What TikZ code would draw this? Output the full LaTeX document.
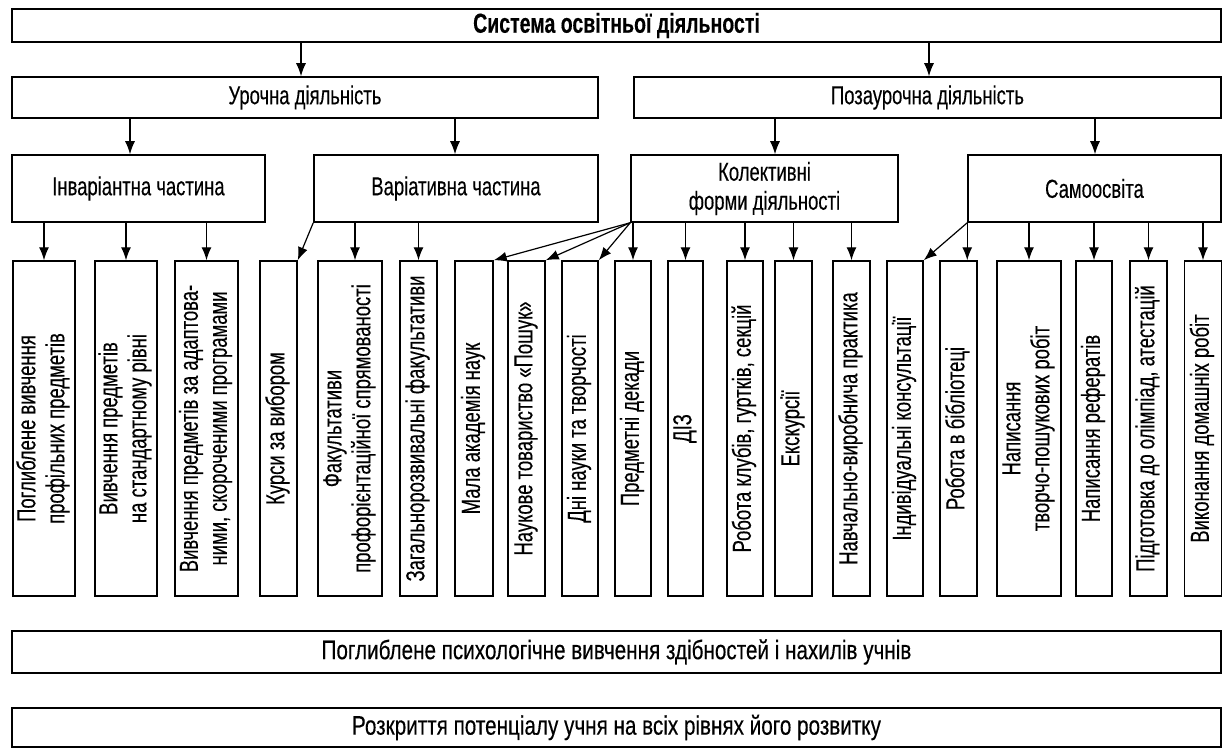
\documentclass[tikz,border=0pt]{standalone}
\usepackage{fontspec}
\setmainfont{Liberation Sans}[FakeStretch=0.71,FakeBold=0.3]
\usetikzlibrary{arrows.meta}
\newcommand{\vtext}[1]{\rotatebox{90}{\begin{tabular}{@{}c@{}}#1\end{tabular}}}
\newcommand{\widetext}[1]{\scalebox{1.12}[1.03]{#1}}
\begin{document}
\begin{tikzpicture}[x=1pt,y=-1pt,
  box/.style={draw, line width=1.5pt, inner sep=0pt, align=center},
  vbox/.style={box, minimum height=335pt},
  arr/.style={line width=1.2pt, -{Latex[length=13pt,width=10pt]}},
  font=\fontsize{26}{29}\selectfont]
\useasboundingbox (0,0) rectangle (1227,749);
% level 0
\node[box, minimum width=1209pt, minimum height=33pt] (T) at (616.5,25.5) {\fontsize{27.5}{29}\selectfont\textbf{Система освітньої діяльності}};
% level 1
\node[box, minimum width=586pt, minimum height=41pt] (U) at (305,97.5) {Урочна діяльність};
\node[box, minimum width=587pt, minimum height=41pt] (P) at (927.5,97.5) {Позаурочна діяльність};
% level 2
\node[box, minimum width=253pt, minimum height=67pt] (Inv) at (138.5,188.5) {Інваріантна частина};
\node[box, minimum width=284pt, minimum height=67pt] (Var) at (456,188.5) {Варіативна частина};
\node[box, minimum width=267pt, minimum height=67pt] (Kol) at (764.5,188.5) {Колективні\\форми діяльності};
\node[box, minimum width=253pt, minimum height=67pt] (Sam) at (1094.5,188.5) {Самоосвіта};
% vertical boxes
\node[vbox, minimum width=62pt] (b1) at (44,428.5) {\vtext{Поглиблене вивчення\\профільних предметів}};
\node[vbox, minimum width=62pt] (b2) at (126,428.5) {\vtext{Вивчення предметів\\на стандартному рівні}};
\node[vbox, minimum width=63pt] (b3) at (206.5,428.5) {\vtext{Вивчення предметів за адаптова-\\ними, скороченими програмами}};
\node[vbox, minimum width=37pt] (b4) at (278.5,428.5) {\vtext{Курси за вибором}};
\node[vbox, minimum width=64pt] (b5) at (350,428.5) {\vtext{Факультативи\\профорієнтаційної спрямованості}};
\node[vbox, minimum width=37pt] (b6) at (418.5,428.5) {\vtext{Загальнорозвивальні факультативи}};
\node[vbox, minimum width=38pt] (b7) at (474,428.5) {\vtext{Мала академія наук}};
\node[vbox, minimum width=37pt] (b8) at (526.5,428.5) {\vtext{Наукове товариство «Пошук»}};
\node[vbox, minimum width=36pt] (b9) at (580,428.5) {\vtext{Дні науки та творчості}};
\node[vbox, minimum width=36pt] (b10) at (633,428.5) {\vtext{Предметні декади}};
\node[vbox, minimum width=35pt] (b11) at (685.5,428.5) {\vtext{ДІЗ}};
\node[vbox, minimum width=36pt] (b12) at (745,428.5) {\vtext{Робота клубів, гуртків, секцій}};
\node[vbox, minimum width=37pt] (b13) at (793.5,428.5) {\vtext{Екскурсії}};
\node[vbox, minimum width=37pt] (b14) at (851.5,428.5) {\vtext{Навчально-виробнича практика}};
\node[vbox, minimum width=36pt] (b15) at (905,428.5) {\vtext{Індивідуальні консультації}};
\node[vbox, minimum width=37pt] (b16) at (958.5,428.5) {\vtext{Робота в бібліотеці}};
\node[vbox, minimum width=64pt] (b17) at (1029,428.5) {\vtext{Написання\\творчо-пошукових робіт}};
\node[vbox, minimum width=36pt] (b18) at (1094,428.5) {\vtext{Написання рефератів}};
\node[vbox, minimum width=37pt] (b19) at (1148.5,428.5) {\vtext{Підготовка до олімпіад, атестацій}};
\node[vbox, minimum width=37pt] (b20) at (1203,428.5) {\vtext{Виконання домашніх робіт}};
% bottom boxes
\node[box, minimum width=1209pt, minimum height=42pt] (A) at (616.5,652) {\widetext{Поглиблене психологічне вивчення здібностей і нахилів учнів}};
\node[box, minimum width=1209pt, minimum height=39pt] (B) at (616.5,727.5) {\widetext{Розкриття потенціалу учня на всіх рівнях його розвитку}};
% arrows level 0 -> 1
\draw[arr] (T.south -| 301,0) -- (U.north -| 301,0);
\draw[arr] (T.south -| 929,0) -- (P.north -| 929,0);
% level 1 -> 2
\draw[arr] (U.south -| 130,0) -- (Inv.north -| 130,0);
\draw[arr] (U.south -| 455,0) -- (Var.north -| 455,0);
\draw[arr] (P.south -| 775,0) -- (Kol.north -| 775,0);
\draw[arr] (P.south -| 1095,0) -- (Sam.north -| 1095,0);
% Inv -> boxes
\foreach \b in {b1,b2,b3} \draw[arr] (\b.north |- Inv.south) -- (\b.north);
% Var -> boxes
\draw[arr] (Var.south west) -- (b4.north east);
\draw[arr] (Var.south -| 355,0) -- (b5.north -| 355,0);
\draw[arr] (b6.north |- Var.south) -- (b6.north);
% Kol -> boxes
\foreach \b in {b7,b8,b9} \draw[arr] (Kol.south west) -- (\b.north east);
\foreach \b in {b10,b11,b12,b13,b14} \draw[arr] (\b.north |- Kol.south) -- (\b.north);
% Sam -> boxes
\draw[arr] (Sam.south west) -- (b15.north east);
\draw[arr] (Sam.south west) -- (Sam.south west |- b16.north);
\foreach \b in {b17,b18,b19,b20} \draw[arr] (\b.north |- Sam.south) -- (\b.north);
\end{tikzpicture}
\end{document}
